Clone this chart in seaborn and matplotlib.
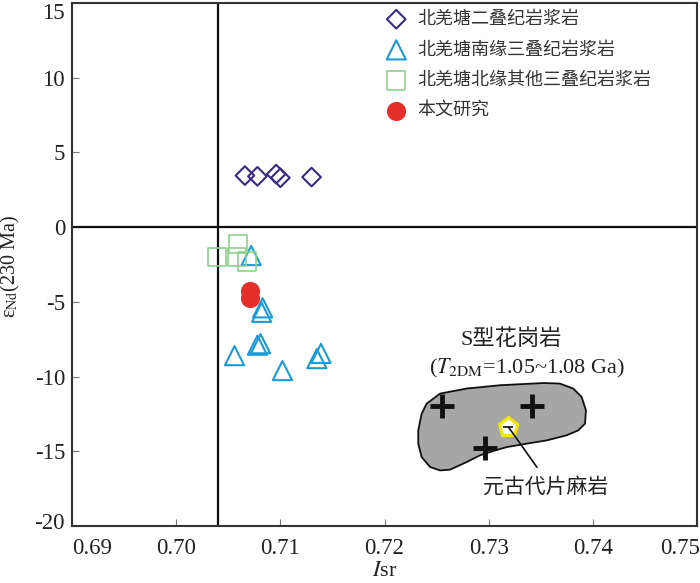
import numpy as np
import pandas as pd
import matplotlib
matplotlib.use('Agg')
import matplotlib.pyplot as plt
import matplotlib.transforms as mtransforms
import seaborn as sns

# Data
# 北羌塘二叠纪岩浆岩
perm_isr = [0.7066, 0.7078, 0.7096, 0.7100, 0.7130]
perm_end = [3.45, 3.40, 3.55, 3.30, 3.35]
# 北羌塘南缘三叠纪岩浆岩
south_isr = [0.7072, 0.7083, 0.7082, 0.7056, 0.7078, 0.7081, 0.7102, 0.7139, 0.7135]
south_end = [-1.9, -5.4, -5.7, -8.6, -7.9, -7.8, -9.6, -8.45, -8.8]
# 北羌塘北缘其他三叠纪岩浆岩
north_isr = [0.7039, 0.7059, 0.7058, 0.7068]
north_end = [-2.0, -1.15, -2.0, -2.3]
# 本文研究
this_isr = [0.7071, 0.7071]
this_end = [-4.25, -4.75]

# S型花岗岩 field outline
field_isr = [0.72324, 0.72357, 0.72405, 0.72533, 0.72789, 0.73109, 0.73533, 0.73684,
             0.73812, 0.73893, 0.73934, 0.73925, 0.73860, 0.73749, 0.73557, 0.73365,
             0.73173, 0.73044, 0.72917, 0.72789, 0.72629, 0.72533, 0.72437, 0.72357,
             0.72324]
field_end = [-13.60, -12.48, -11.81, -11.14, -10.80, -10.58, -10.43, -10.47,
             -10.80, -11.37, -12.26, -13.15, -13.60, -13.93, -14.27, -14.49,
             -14.72, -14.98, -15.27, -15.72, -16.23, -16.28, -16.05, -15.39,
             -14.49]
granite_isr = [0.72549, 0.73413, 0.72965]
granite_end = [-11.95, -11.95, -14.75]
gneiss_isr = [0.73188]
gneiss_end = [-13.36]
leader_end = (0.73464, -16.07)

xticks = [0.69, 0.70, 0.71, 0.72, 0.73, 0.74, 0.75]
yticks = [-20, -15, -10, -5, 0, 5, 10, 15]

sns.set_style('ticks')
plt.rcParams['font.family'] = ['Liberation Serif', 'Noto Sans CJK SC']
plt.rcParams['mathtext.fontset'] = 'stix'
plt.rcParams['axes.unicode_minus'] = False

cjk = ['Noto Sans CJK SC', 'DejaVu Sans']

fig = plt.figure(figsize=(7, 5.83), dpi=100)
ax = fig.add_axes([72 / 700, 57 / 583, 625 / 700, 523 / 583])

ax.axvline(0.704, color='#111111', lw=1.6, zorder=1)
ax.axhline(0, color='#111111', lw=1.6, zorder=1)

df_perm = pd.DataFrame({'isr': perm_isr, 'end': perm_end})
df_south = pd.DataFrame({'isr': south_isr, 'end': south_end})
df_north = pd.DataFrame({'isr': north_isr, 'end': north_end})
df_this = pd.DataFrame({'isr': this_isr, 'end': this_end})

sns.scatterplot(data=df_perm, x='isr', y='end', marker='D', s=90, facecolor='none',
                edgecolor='#3b2a84', linewidth=1.5, label='北羌塘二叠纪岩浆岩', ax=ax, zorder=3)
sns.scatterplot(data=df_south, x='isr', y='end', marker='^', s=190, facecolor='none',
                edgecolor='#1a9ad6', linewidth=1.5, label='北羌塘南缘三叠纪岩浆岩', ax=ax, zorder=3)
sns.scatterplot(data=df_north, x='isr', y='end', marker='s', s=170, facecolor='none',
                edgecolor='#8fcf8f', linewidth=1.2, label='北羌塘北缘其他三叠纪岩浆岩', ax=ax, zorder=3)
sns.scatterplot(data=df_this, x='isr', y='end', marker='o', s=190, color='#e3302a',
                edgecolor='#e3302a', linewidth=0, label='本文研究', ax=ax, zorder=4)

# S-type granite field
ax.fill(field_isr, field_end, facecolor='#a6a6a6', edgecolor='#111111', lw=1.3,
        joinstyle='round', zorder=2)
ax.plot(granite_isr, granite_end, ls='none', marker='+', ms=17, mew=3.5,
        color='#111111', zorder=3)
ax.plot(gneiss_isr, gneiss_end, ls='none', marker='p', ms=14, mew=2.2,
        mfc='white', mec='#f4e600', zorder=4)
ax.plot(gneiss_isr, gneiss_end, ls='none', marker='_', ms=7, mew=1.2,
        color='#111111', zorder=5)
ax.annotate('', xy=(gneiss_isr[0], gneiss_end[0]), xytext=leader_end,
            arrowprops=dict(arrowstyle='-', color='#111111', lw=1.2, shrinkA=0, shrinkB=0),
            zorder=5)
ax.text(0.7355, -17.35, '元古代片麻岩', ha='center', va='center', fontsize=15,
        family=cjk, color='#222222')
ax.text(0.7322, -7.5, 'S型花岗岩', ha='center', va='center', fontsize=16,
        family=['Liberation Serif', 'Noto Sans CJK SC'], color='#222222')
ax.text(0.7337, -9.45, r'($T_{\mathrm{2DM}}$=1.05~1.08 Ga)', ha='center', va='center',
        fontsize=16, color='#222222')

ax.set_xlim(0.69, 0.75)
ax.set_ylim(-20, 15)
ax.set_xticks(xticks)
ax.set_xticklabels([f'{v:.2f}' for v in xticks])
ax.set_yticks(yticks)
ax.set_yticklabels([str(v) for v in yticks])
ax.tick_params(direction='in', length=5, width=0.8, colors='#777777',
               labelcolor='#222222', labelsize=16.5)
ax.tick_params(axis='x', pad=9)
ax.tick_params(axis='y', pad=5)
for sp in ax.spines.values():
    sp.set_color('#333333')
    sp.set_linewidth(1.5)

# nudge the end labels inward like the original
def shift(lab, dx, dy):
    lab.set_transform(lab.get_transform() +
                      mtransforms.ScaledTranslation(dx / 100, dy / 100, fig.dpi_scale_trans))

xl = ax.get_xticklabels()
yl = ax.get_yticklabels()
shift(xl[0], 20, 0)
shift(xl[-1], -17, 0)
shift(yl[0], 0, 5)
shift(yl[-1], 0, -8)

ax.set_xlabel(r'$\mathit{I}$sr', fontsize=16, color='#222222', labelpad=2)
ax.set_ylabel(r'ε$_{\mathrm{Nd}}$(230 Ma)', fontsize=14.5, color='#222222')
ax.yaxis.set_label_coords(-0.08, 0.497)

leg = ax.legend(loc='upper left', bbox_to_anchor=((380 - 72) / 625, 0.997), frameon=False,
                prop={'family': cjk, 'size': 13}, handlelength=1.2, handletextpad=0.55,
                labelspacing=0.7, borderaxespad=0, borderpad=0.3)
for t in leg.get_texts():
    t.set_color('#333333')

fig.savefig('out.png', dpi=100)
